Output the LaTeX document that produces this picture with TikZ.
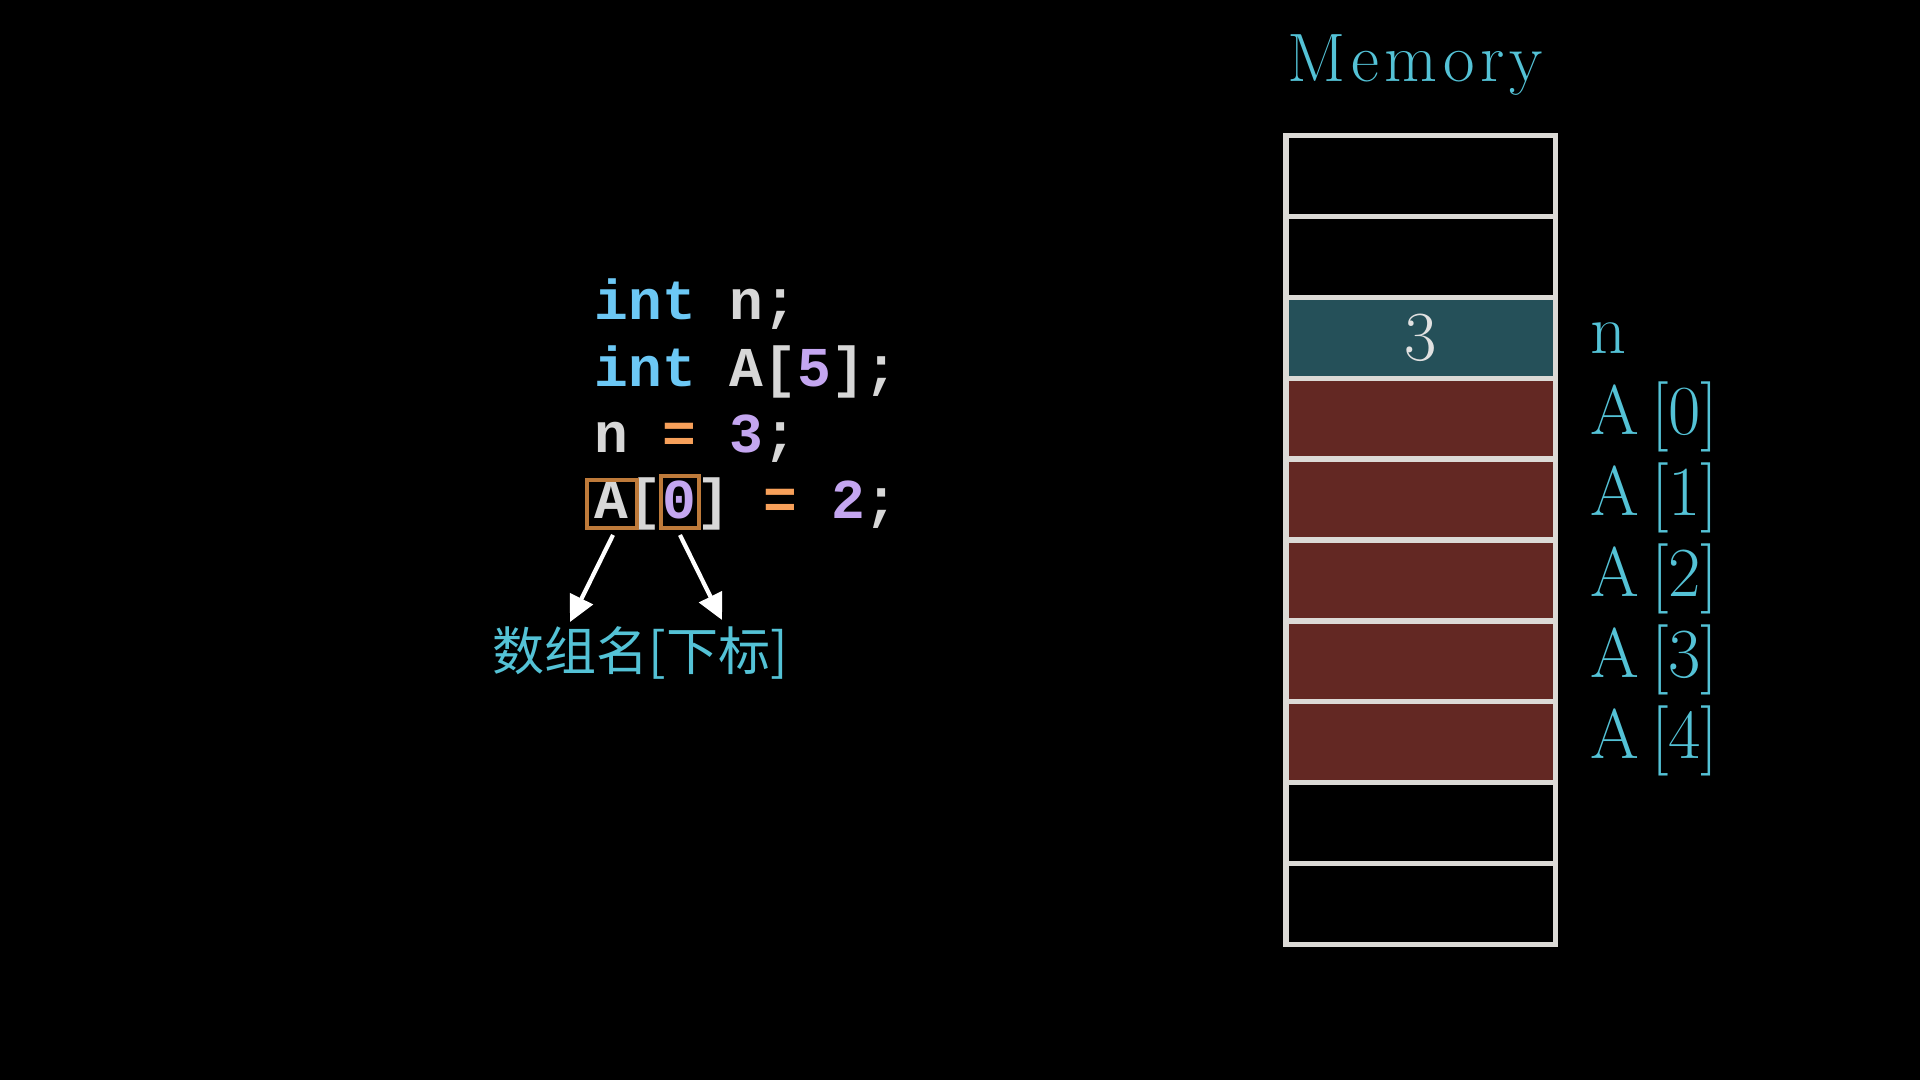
\documentclass[tikz,border=0pt]{standalone}
\usepackage{fontspec}
\usetikzlibrary{arrows.meta}
\newfontfamily\codefont{Liberation Mono}
\newfontfamily\cjkfont{Noto Sans CJK SC}
\newfontfamily\titlefont{Latin Modern Roman}[LetterSpace=8]
\definecolor{kw}{RGB}{108,200,245}
\definecolor{tx}{RGB}{215,215,215}
\definecolor{num}{RGB}{196,166,240}
\definecolor{op}{RGB}{247,160,90}
\definecolor{boxc}{RGB}{190,122,58}
\definecolor{cyanT}{RGB}{84,194,214}
\definecolor{tealc}{RGB}{37,80,89}
\definecolor{redc}{RGB}{99,40,35}
\definecolor{border}{RGB}{220,218,214}
\definecolor{digit}{RGB}{225,225,225}
\tikzset{
  code/.style={inner sep=0pt, anchor=base west, font=\codefont\bfseries\fontsize{16pt}{19pt}\selectfont, text=tx},
  hlbox/.style={draw=boxc, line width=1pt, inner sep=0pt},
  cell/.style={draw=border, line width=1.5pt, minimum width=2.695cm, minimum height=0.809cm, inner sep=0pt},
  memlabel/.style={inner sep=0pt, anchor=base west, text=cyanT, font=\fontsize{20pt}{24pt}\selectfont},
  arr/.style={draw=white, line width=1.2pt, -{Triangle[length=0.26cm, width=0.25cm]}}
}
\begin{document}
\begin{tikzpicture}[x=0.01cm,y=-0.01cm]
\fill[black] (0,0) rectangle (1920,1080);
\useasboundingbox (0,0) rectangle (1920,1080);

% code
\node[code] (l1) at (594,320) {\textcolor{kw}{int} n;};
\node[code] (l2) at (594,386.5) {\textcolor{kw}{int} A[\textcolor{num}{5}];};
\node[code] (l3) at (594,453) {n \textcolor{op}{=} \textcolor{num}{3};};
\node[code] (l4) at (594,519) {A[\textcolor{num}{0}] \textcolor{op}{=} \textcolor{num}{2};};
\node[hlbox, minimum width=0.50cm, minimum height=0.48cm] (bA) at (612,504) {};
\node[hlbox, minimum width=0.38cm, minimum height=0.52cm] (b0) at (680,502) {};

% explanation
\node[inner sep=0pt, text=cyanT, font=\cjkfont\fontsize{14.8pt}{18pt}\selectfont] (lab) at (640,653) {数组名[下标]};
\coordinate (s1) at (613,535);
\coordinate (e1) at (570,622);
\coordinate (s2) at (680,535);
\coordinate (e2) at (722,620);
\draw[arr] (s1) -- (e1);
\draw[arr] (s2) -- (e2);

% memory
\node[inner sep=0pt, anchor=base west, text=cyanT, font=\titlefont\fontsize{19.5pt}{24pt}\selectfont] (title) at (1287,82) {Memory};
\foreach \i/\f in {0/black,1/black,2/tealc,3/redc,4/redc,5/redc,6/redc,7/redc,8/black,9/black} {
  \node[cell, fill=\f] (m\i) at (1420.75, {135.5+80.9*(\i+0.5)}) {};
}
\node[inner sep=0pt, text=digit, font=\fontsize{20pt}{24pt}\selectfont] (three) at (m2.center) {3};
\node[memlabel] (ln) at (1590, {135.5+80.9*2.5+16}) {n};
\foreach \i/\k in {3/0,4/1,5/2,6/3,7/4} {
  \node[memlabel] (la\k) at (1590, {135.5+80.9*(\i+0.5)+16}) {A\,[\k]};
}
\end{tikzpicture}
\end{document}
